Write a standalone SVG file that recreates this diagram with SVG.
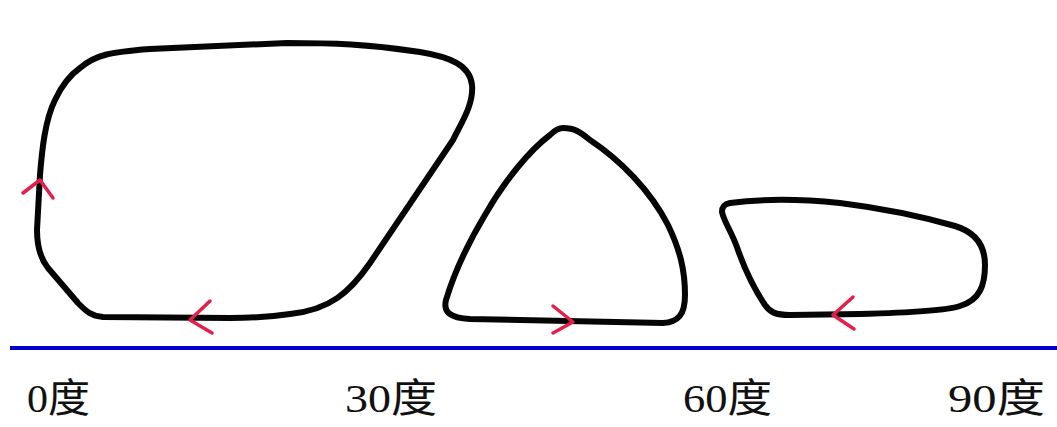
<svg xmlns="http://www.w3.org/2000/svg" width="1057" height="427" viewBox="0 0 1057 427">
<style>
.loop{fill:none;stroke:#050505;stroke-width:6;stroke-linejoin:round;stroke-linecap:round}
.arr{fill:none;stroke:#e3204a;stroke-width:3.5;stroke-linecap:round;stroke-linejoin:round}
.lbl{font-family:"Liberation Serif","Noto Sans CJK SC",serif;font-size:40px;fill:#111}
</style>
<rect width="1057" height="427" fill="#ffffff"/>
<g id="loop-0">
<path class="loop" d="M 80,68 C 95,55 110,52 150,49 L 287,43 C 330,43 370,44 420,52 C 450,57 470,65 472,85 C 474,105 460,125 453,140 L 370,263 C 350,292 330,310 290,314 C 270,317 250,318 230,318 L 103,317 C 90,316 85,310 78,303 L 48,268 C 40,258 37,245 37,230 L 40,175 C 42,150 45,120 55,100 C 62,85 70,75 80,68 Z"/>
<path class="arr" d="M 23,193 L 40,180 L 53,198"/>
<path class="arr" d="M 210,301 L 190,320 L 212,333"/>
</g>
<g id="loop-30">
<path class="loop" d="M 563,128 C 575,128 580,132 590,140 C 620,160 650,190 668,225 C 680,250 685,270 685,295 C 685,315 678,322 663,323 L 470,319 C 450,318 443,312 446,300 C 455,270 470,240 485,215 C 505,180 530,150 550,135 C 555,130 558,128 563,128 Z"/>
<path class="arr" d="M 553,306 L 573,322 L 553,333"/>
</g>
<g id="loop-60">
<path class="loop" d="M 730,203 C 760,199 800,199 840,203 C 880,208 920,216 955,226 C 975,232 985,245 985,265 C 985,285 980,300 960,306 C 945,311 900,313 860,314 L 790,315 C 775,315 770,312 765,305 C 755,290 745,270 738,250 C 732,232 724,222 722,212 C 722,206 725,204 730,203 Z"/>
<path class="arr" d="M 853,297 L 833,315 L 854,329"/>
</g>
<g id="axis">
<line x1="10" y1="348" x2="1057" y2="348" stroke="#0000c8" stroke-width="4"/>
</g>
<g id="labels">
<text class="lbl" x="27" y="412" textLength="63" lengthAdjust="spacingAndGlyphs">0度</text>
<text class="lbl" x="345" y="412" textLength="92" lengthAdjust="spacingAndGlyphs">30度</text>
<text class="lbl" x="683" y="412" textLength="89" lengthAdjust="spacingAndGlyphs">60度</text>
<text class="lbl" x="948" y="412" textLength="97" lengthAdjust="spacingAndGlyphs">90度</text>
</g>
</svg>
